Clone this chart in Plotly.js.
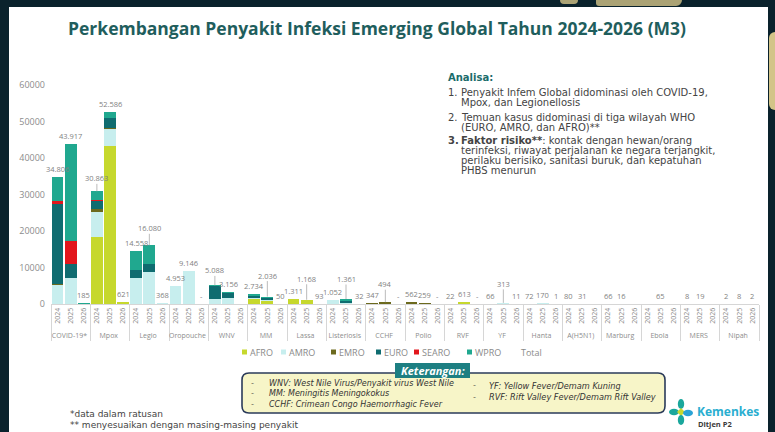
<!DOCTYPE html>
<html><head><meta charset="utf-8">
<script src="https://cdn.plot.ly/plotly-3.0.1.min.js"></script>
<style>
html,body{margin:0;padding:0;background:#0a222c;width:775px;height:432px;overflow:hidden}
#frame{position:absolute;left:9px;top:7px;width:759px;height:425px;background:#fff}
#chart{position:absolute;left:0;top:0;width:775px;height:432px}
.gold{position:absolute;background:#d3c488}
#logo{position:absolute;left:669px;top:399px;width:24px;height:26px}
</style></head><body>
<div id="frame"></div>
<div class="gold" style="left:769px;top:32px;width:6px;height:78px;border-radius:6px 0 0 6px"></div>
<div class="gold" style="left:560px;top:0px;width:18px;height:4px;border-radius:0 0 4px 4px;opacity:.8"></div>
<div class="gold" style="left:596px;top:0px;width:86px;height:6px;border-radius:0 0 6px 3px;opacity:.8"></div>
<svg id="logo" viewBox="0 0 24 26">
  <ellipse cx="5" cy="13" rx="5" ry="3.2" fill="#1aa79c"/>
  <ellipse cx="12" cy="5" rx="3.2" ry="5" fill="#1aa79c"/>
  <path d="M12 9 L16 13 L12 17 L8 13 Z" fill="#c7d92e"/>
  <ellipse cx="19" cy="14" rx="5" ry="3.2" fill="#2aa3d6"/>
  <ellipse cx="12" cy="21" rx="3.2" ry="5" fill="#1aa79c"/>
</svg>
<div id="chart"></div>
<script>
// ---------- data ----------
const diseases = ["COVID-19*","Mpox","Legio","Oropouche","WNV","MM","Lassa","Listeriosis","CCHF","Polio","RVF","YF","Hanta","A(H5N1)","Marburg","Ebola","MERS","Nipah"];
const years = ["2024","2025","2026"];
// each array: per disease [2024, 2025, 2026]
const AFRO  = [0,0,0, 18300,43200,520, 0,0,0, 0,0,0, 0,0,0, 1300,900,50, 1311,1168,93, 0,0,0, 0,0,0, 0,100,0, 22,613,0, 40,63,0, 0,0,0, 0,0,0, 66,16,0, 0,65,0, 0,0,0, 0,0,0];
const AMRO  = [5300,7100,130, 6800,4800,101, 7100,8800,368, 4953,9146,0, 1300,1700,0, 400,300,0, 0,0,0, 1052,200,32, 0,0,0, 0,0,0, 0,0,0, 26,250,11, 72,170,1, 80,31,0, 0,0,0, 0,0,0, 0,0,0, 0,0,0];
const EMRO  = [100,0,0, 900,200,0, 0,0,0, 0,0,0, 0,0,0, 0,0,0, 0,0,0, 0,0,0, 347,494,0, 562,159,0, 0,0,0, 0,0,0, 0,0,0, 0,0,0, 0,0,0, 0,0,0, 8,19,0, 0,0,0];
const EURO  = [22000,3900,0, 2100,2700,0, 2100,2250,0, 0,0,0, 3700,1300,0, 600,500,0, 0,0,0, 0,600,0, 0,0,0, 0,0,0, 0,0,0, 0,0,0, 0,0,0, 0,0,0, 0,0,0, 0,0,0, 0,0,0, 0,0,0];
const SEARO = [900,6300,0, 300,100,0, 0,0,0, 0,0,0, 0,0,0, 0,0,0, 0,0,0, 0,0,0, 0,0,0, 0,0,0, 0,0,0, 0,0,0, 0,0,0, 0,0,0, 0,0,0, 0,0,0, 0,0,0, 2,8,2];
const WPRO  = [6506,26617,55, 2463,1586,0, 5358,5030,0, 0,0,0, 88,156,0, 434,336,0, 0,0,0, 0,561,0, 0,0,0, 0,0,0, 0,0,0, 0,0,0, 0,0,0, 0,0,0, 0,0,0, 0,0,0, 0,0,0, 0,0,0];
const totalLabels = ["34.806","43.917","185", "30.863","52.586","621", "14.558","16.080","368", "4.953","9.146","-", "5.088","3.156","", "2.734","2.036","50", "1.311","1.168","93", "1.052","1.361","32", "347","494","-", "562","259","-", "22","613","-", "66","313","11", "72","170","1", "80","31","", "66","16","", "","65","", "8","19","", "2","8","2"];
const yTicks = [0,10000,20000,30000,40000,50000,60000];
const regionNames = ["AFRO","AMRO","EMRO","EURO","SEARO","WPRO"];
const regionColors = ["#c6d82d","#c7eeee","#6c6a1e","#0f6c70","#e2161c","#20a88f"];
const leaderLabels = {"Mpox 2024":13,"Legio 2025":17,"WNV 2024":15,"MM 2025":21,"Lassa 2025":21,"Listeriosis 2025":20,"CCHF 2025":18,"YF 2025":19};

const analisaLines = [
  ["1.","Penyakit Infem Global didominasi oleh COVID-19,",92.5],
  ["","Mpox, dan Legionellosis",102],
  ["2.","Temuan kasus didominasi di tiga wilayah WHO",117.5],
  ["","(EURO, AMRO, dan AFRO)**",127],
  ["<b>3.</b>","<b>Faktor risiko**</b>: kontak dengan hewan/orang",140.5],
  ["","terinfeksi, riwayat perjalanan ke negara terjangkit,",150.3],
  ["","perilaku berisiko, sanitasi buruk, dan kepatuhan",160.1],
  ["","PHBS menurun",170.8]
];
const keteranganLeft = ["WNV: <i>West Nile Virus</i>/Penyakit virus West Nile","MM: Meningitis Meningokokus","CCHF: Crimean Congo Haemorrhagic Fever"];
const keteranganRight = ["YF: Yellow Fever/Demam Kuning","RVF: Rift Valley Fever/Demam Rift Valley"];

// ---------- geometry helpers ----------
const L=51, R=16, T=85, B=128, W=775-L-R, PH=432-T-B;
const X = px => (px-L)/W;
const Y = py => (432-B-py)/PH;

const xOuter=[], xInner=[];
diseases.forEach(d=>years.forEach(y=>{xOuter.push(d);xInner.push(y);}));
const series=[AFRO,AMRO,EMRO,EURO,SEARO,WPRO];

const traces = series.map((s,k)=>({
  type:'bar', name:regionNames[k], x:[xOuter,xInner], y:s,
  marker:{color:regionColors[k], line:{width:0}}, hoverinfo:'skip'
}));
traces.push({type:'scatter', x:[0], y:[0], xaxis:'x2', mode:'markers', marker:{opacity:0}, showlegend:false, hoverinfo:'skip'});

const annotations=[], shapes=[];
const baseFont='Open Sans, sans-serif';
const wideFont='DejaVu Sans, sans-serif';
const A=(px,py,text,o={})=>annotations.push(Object.assign({xref:'paper',yref:'paper',x:X(px),y:Y(py),text,showarrow:false,xanchor:'left',yanchor:'middle',borderpad:0,font:{family:baseFont,size:9,color:'#404040'}},o));

// total labels
totalLabels.forEach((t,i)=>{
  if(!t) return;
  const tot=series.reduce((a,s)=>a+s[i],0);
  const key=diseases[Math.floor(i/3)]+" "+years[i%3];
  const f={family:baseFont,size:7.5,color:'#7f7f7f'};
  if(leaderLabels[key]){
    annotations.push({xref:'x2',yref:'y',x:i,y:tot,text:t,showarrow:true,ax:0,ay:-leaderLabels[key],arrowhead:0,arrowwidth:0.8,arrowcolor:'#a8a8a8',standoff:0,font:f,borderpad:0});
  } else {
    annotations.push({xref:'x2',yref:'y',x:i,y:tot,text:t,showarrow:false,yanchor:'bottom',yshift:2,font:f,borderpad:0});
  }
});

// title
A(376.5,28,"Perkembangan Penyakit Infeksi Emerging Global Tahun 2024-2026 (M3)",{xanchor:'center',font:{family:baseFont,size:17.5,color:'#1f5e5d',weight:700}});

// analisa
A(447,77,"<b>Analisa:</b>",{font:{family:wideFont,size:10,color:'#1b6c6b'}});
analisaLines.forEach(l=>{
  if(l[0]) A(447,l[2],l[0],{font:{family:wideFont,size:10,color:'#444444'}});
  A(460,l[2],l[1],{font:{family:wideFont,size:10,color:'#444444'}});
});

// legend (custom)
const legX=[242,281,331,376,414,467];
regionNames.forEach((n,k)=>{
  shapes.push({type:'rect',xref:'paper',yref:'paper',x0:X(legX[k]),x1:X(legX[k]+5),y0:Y(349.5),y1:Y(354.5),fillcolor:regionColors[k],line:{width:0}});
  A(legX[k]+7,352,n,{font:{family:baseFont,size:9,color:'#8a8a8a'}});
});
A(520,352,"Total",{font:{family:baseFont,size:9,color:'#8a8a8a'}});

// keterangan box (rounded)
(function(){
  const x0=242,x1=665,y0=373,y1=413,r=7;
  const p=(px,py)=>X(px)+','+Y(py);
  const path='M'+p(x0+r,y0)+' L'+p(x1-r,y0)+' Q'+p(x1,y0)+' '+p(x1,y0+r)+' L'+p(x1,y1-r)+' Q'+p(x1,y1)+' '+p(x1-r,y1)+
    ' L'+p(x0+r,y1)+' Q'+p(x0,y1)+' '+p(x0,y1-r)+' L'+p(x0,y0+r)+' Q'+p(x0,y0)+' '+p(x0+r,y0)+' Z';
  shapes.push({type:'path',xref:'paper',yref:'paper',path,fillcolor:'#f7f5c8',line:{color:'#2b3b5a',width:1.6}});
  shapes.push({type:'rect',xref:'paper',yref:'paper',x0:X(395),x1:X(470),y0:Y(363),y1:Y(378),fillcolor:'#1d7f82',line:{width:0}});
})();
A(432.5,370,"<b><i>Keterangan:</i></b>",{xanchor:'center',font:{family:baseFont,size:11,color:'#ffffff'}});
const ketF={family:wideFont,size:8,color:'#333333',style:'italic'};
[383,393.5,404].forEach((py,i)=>{A(250,py,"-",{font:ketF});A(268,py,keteranganLeft[i],{font:ketF});});
[386,397].forEach((py,i)=>{A(472,py,"-",{font:ketF});A(488,py,keteranganRight[i],{font:Object.assign({},ketF,{size:8.2})});});

// footnotes
A(69,414,"*data dalam ratusan",{font:{family:wideFont,size:9,color:'#444444'}});
A(69,425,"** menyesuaikan dengan masing-masing penyakit",{font:{family:wideFont,size:9,color:'#444444'}});

// logo text
A(696,411,"<b>Kemenkes</b>",{font:{family:baseFont,size:12,color:'#2aaed0'}});
A(697,424,"<b>Ditjen P2</b>",{font:{family:baseFont,size:7.5,color:'#3a3a3a'}});

const layout={
  width:775,height:432,
  margin:{l:L,r:R,t:T,b:B,pad:0},
  paper_bgcolor:'rgba(0,0,0,0)',plot_bgcolor:'rgba(0,0,0,0)',
  barmode:'stack',bargap:0.1,showlegend:false,
  font:{family:baseFont,color:'#808080'},
  xaxis:{type:'multicategory',tickangle:-90,tickfont:{size:7,color:'#8c8c8c'},showdividers:true,dividercolor:'#d6d6d6',dividerwidth:1,
         showline:true,linecolor:'#d6d6d6',linewidth:1,ticks:'',showgrid:false,zeroline:false,fixedrange:true},
  xaxis2:{overlaying:'x',range:[-0.5,53.5],visible:false,fixedrange:true},
  yaxis:{range:[0,60000],tickvals:yTicks,ticktext:yTicks.map(String),tickfont:{size:9,color:'#8c8c8c'},showgrid:false,zeroline:false,showline:false,ticks:'',ticklabelstandoff:5,fixedrange:true},
  annotations,shapes
};
Plotly.newPlot('chart',traces,layout,{staticPlot:true,displayModeBar:false});
</script>
</body></html>
